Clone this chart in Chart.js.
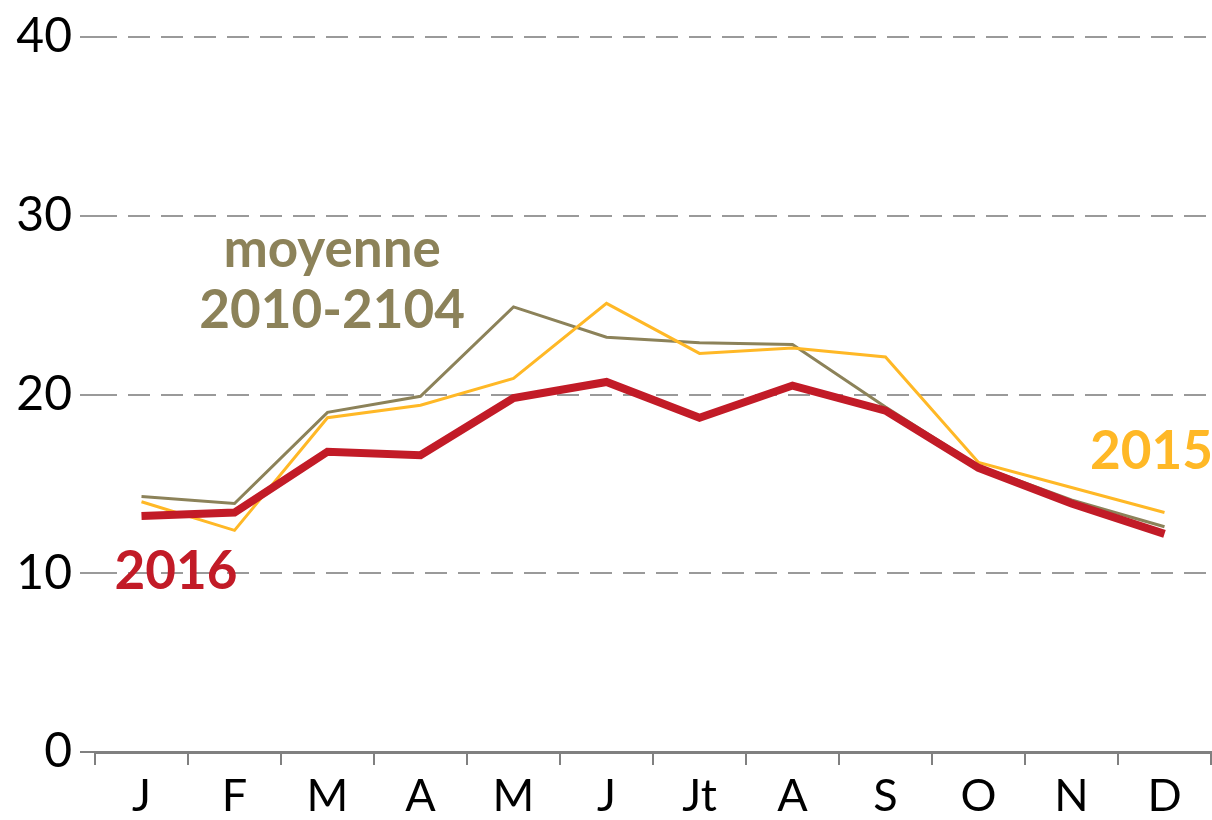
<!DOCTYPE html>
<html>
<head>
<meta charset="utf-8">
<script src="https://cdn.jsdelivr.net/npm/chart.js@4.4.1/dist/chart.umd.min.js"></script>
<style>
  html, body { margin: 0; padding: 0; background: #fff; }
  #wrap { width: 1212px; height: 820px; }
</style>
</head>
<body>
<div id="wrap"><canvas id="chart" width="1212" height="820"></canvas></div>
<script>
const months = ['J', 'F', 'M', 'A', 'M', 'J', 'Jt', 'A', 'S', 'O', 'N', 'D'];
const yTicks = [0, 10, 20, 30, 40];

const data2016 = [13.2, 13.4, 16.8, 16.6, 19.8, 20.7, 18.7, 20.5, 19.1, 15.9, 13.9, 12.2];
const data2015 = [14.0, 12.4, 18.7, 19.4, 20.9, 25.1, 22.3, 22.6, 22.1, 16.2, 14.8, 13.4];
const dataMoy = [14.3, 13.9, 19.0, 19.9, 24.9, 23.2, 22.9, 22.8, 19.3, 16.0, 14.1, 12.6];

const red = '#c21b27';
const orange = '#ffb826';
const olive = '#8c8259';
const font = 'Lato, "Open Sans", sans-serif';

// text labels next to the lines, placed with the chart scales
const seriesLabels = [
  { lines: ['moyenne', '2010-2104'], idx: 2.05, val: 28.1, step: 3.4, color: olive },
  { lines: ['2015'], idx: 10.86, val: 16.8, step: 0, color: orange },
  { lines: ['2016'], idx: 0.37, val: 10.1, step: 0, color: red }
];

const labelPlugin = {
  id: 'seriesLabels',
  afterDatasetsDraw(chart) {
    const ctx = chart.ctx;
    const xs = chart.scales.x, ys = chart.scales.y;
    ctx.save();
    ctx.font = 'bold 53px ' + font;
    ctx.textAlign = 'center';
    ctx.textBaseline = 'middle';
    seriesLabels.forEach(l => {
      ctx.fillStyle = l.color;
      l.lines.forEach((t, i) => {
        ctx.fillText(t, xs.getPixelForValue(l.idx), ys.getPixelForValue(l.val - i * l.step));
      });
    });
    ctx.restore();
  }
};

const config = {
  type: 'line',
  data: {
    labels: months,
    datasets: [
      { label: '2016', data: data2016, borderColor: red, borderWidth: 8 },
      { label: '2015', data: data2015, borderColor: orange, borderWidth: 3 },
      { label: 'moyenne 2010-2104', data: dataMoy, borderColor: olive, borderWidth: 3 }
    ]
  },
  options: {
    responsive: false,
    animation: false,
    layout: { padding: { top: 37, right: 1, left: 0, bottom: 0 } },
    elements: {
      point: { radius: 0 },
      line: { tension: 0, borderJoinStyle: 'miter', borderCapStyle: 'butt' }
    },
    plugins: {
      legend: { display: false },
      tooltip: { enabled: false }
    },
    scales: {
      x: {
        offset: true,
        afterFit: s => { s.height = 68; },
        grid: {
          offset: true,
          drawOnChartArea: false,
          drawTicks: true,
          tickLength: 13,
          color: '#808080',
          lineWidth: 2
        },
        border: { display: true, color: '#808080', width: 3 },
        ticks: {
          color: '#000',
          font: { family: font, size: 45 },
          padding: 4,
          maxRotation: 0,
          autoSkip: false
        }
      },
      y: {
        min: 0,
        max: 40,
        afterFit: s => { s.width = 95; },
        afterBuildTicks: s => { s.ticks = yTicks.map(v => ({ value: v })); },
        border: { display: false, dash: [22, 11] },
        grid: {
          color: c => c.tick.value === 0 ? 'rgba(0,0,0,0)' : '#9a9a9a',
          tickColor: c => c.tick.value === 0 ? '#808080' : '#9a9a9a',
          lineWidth: 2,
          tickBorderDash: [22, 11],
          tickLength: 15
        },
        ticks: {
          color: '#000',
          font: { family: font, size: 48 },
          padding: 8
        }
      }
    }
  },
  plugins: [labelPlugin]
};

new Chart(document.getElementById('chart'), config);
</script>
</body>
</html>
